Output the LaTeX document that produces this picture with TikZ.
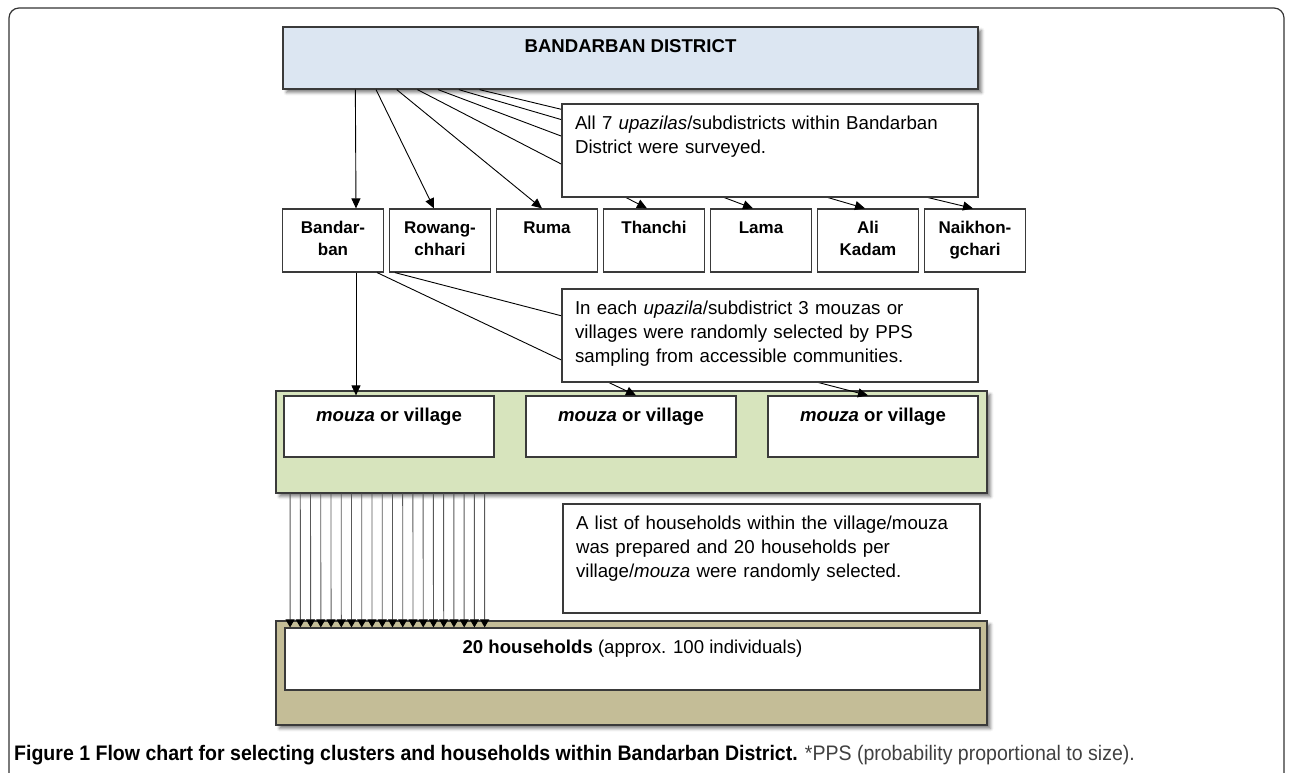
\documentclass[tikz,border=0pt]{standalone}
\usepackage{fontspec}
\setmainfont{Liberation Sans}
\usepackage{graphicx}
\usepackage{tikz}
\usetikzlibrary{arrows.meta, calc, shadows.blur}
\definecolor{districtblue}{HTML}{DCE6F2}
\definecolor{villagegreen}{HTML}{D7E4BD}
\definecolor{householdtan}{HTML}{C4BD97}
\definecolor{edgegray}{HTML}{3A3A3A}
\tikzstyle{boxshadow} = [blur shadow={shadow xshift=3.5pt, shadow yshift=-3.5pt, shadow blur radius=3pt, shadow opacity=50}]
\tikzstyle{district_box} = [rectangle, minimum width=695pt, inner ysep=12pt, text height=13.4pt, text depth=24.6pt, draw=edgegray, line width=1.3pt, fill=districtblue, font=\fontsize{18.6}{22}\selectfont\bfseries, boxshadow]
\tikzstyle{sub_box} = [rectangle, text width=89pt, align=center, inner xsep=6pt, inner ysep=6pt, text height=18pt, text depth=33pt, draw=edgegray, line width=1.2pt, fill=white, font=\fontsize{17}{22}\selectfont\bfseries]
\tikzstyle{note_box} = [rectangle, align=left, inner xsep=13pt, inner ysep=6pt, text height=19.7pt, draw=edgegray, line width=1.2pt, fill=white, font=\fontsize{18.7}{24}\selectfont]
\tikzstyle{band} = [rectangle, minimum width=711pt, inner sep=0pt, draw=edgegray, line width=1.3pt, boxshadow]
\tikzstyle{mouza_box} = [rectangle, minimum width=210pt, inner ysep=6pt, text height=19.7pt, text depth=29.3pt, draw=edgegray, line width=1.2pt, fill=white, font=\fontsize{18.6}{22}\selectfont\bfseries]
\tikzstyle{arrow} = [line width=0.9pt, ->, >={Triangle[length=10pt, width=9pt]}]
\tikzstyle{hh_arrow} = [line width=0.9pt, draw=black!65, ->, >={Triangle[length=8pt, width=9pt, color=black]}]

\begin{document}
\begin{tikzpicture}[x=1pt, y=-1pt, node distance=107pt]
	\useasboundingbox (0,0) rectangle (1290,773);
	\draw[rounded corners=10pt, line width=1.2pt, draw=black!80] (9,8) rectangle (1284,800);

	\node(district) [district_box] at (630.5,58) {BANDARBAN DISTRICT};
	\node(sub_bandarban) [sub_box] at (333,240.5) {Bandar-\\ban};
	\node(sub_rowangchhari) [sub_box, right of=sub_bandarban] {Rowang-\\chhari};
	\node(sub_ruma) [sub_box, right of=sub_rowangchhari] {Ruma};
	\node(sub_thanchi) [sub_box, right of=sub_ruma] {Thanchi};
	\node(sub_lama) [sub_box, right of=sub_thanchi] {Lama};
	\node(sub_alikadam) [sub_box, right of=sub_lama] {Ali\\Kadam};
	\node(sub_naikhongchari) [sub_box, right of=sub_alikadam] {Naikhon-\\gchari};

	\draw[arrow] ($(district.south west)+(73,0)$) -- ($(sub_bandarban.north)+(23,0)$);
	\draw[arrow] ($(district.south west)+(93.7,0)$) -- ($(sub_rowangchhari.north)+(-6,0)$);
	\draw[arrow] ($(district.south west)+(114.4,0)$) -- ($(sub_ruma.north)+(-5,0)$);
	\draw[arrow] ($(district.south west)+(135.1,0)$) -- ($(sub_thanchi.north)+(-7,0)$);
	\draw[arrow] ($(district.south west)+(155.8,0)$) -- ($(sub_lama.north)+(-8,0)$);
	\draw[arrow] ($(district.south west)+(176.5,0)$) -- ($(sub_alikadam.north)+(-3,0)$);
	\draw[arrow] ($(district.south west)+(197.2,0)$) -- ($(sub_naikhongchari.north)+(-2,0)$);

	\node(note_survey) [note_box, text width=390pt, text depth=61.3pt] at (770,150.5) {All 7 \textit{upazilas}/subdistricts within Bandarban\\District were surveyed.};

	\node(villages) [band, fill=villagegreen, minimum height=102pt] at (631.5,442) {};
	\node(mouza_1) [mouza_box] at (389,426.5) {\textit{mouza} or village};
	\node(mouza_2) [mouza_box, right of=mouza_1, node distance=242pt] {\textit{mouza} or village};
	\node(mouza_3) [mouza_box, right of=mouza_2, node distance=242pt] {\textit{mouza} or village};

	\draw[arrow] ($(sub_bandarban.south)+(23,0)$) -- ($(mouza_1.north)+(-33,0)$);
	\draw[arrow] ($(sub_bandarban.south east)+(-7,0)$) -- ($(mouza_2.north)+(5,0)$);
	\draw[arrow] ($(sub_rowangchhari.south west)+(6,0)$) -- ($(mouza_3.north)+(-5,0)$);

	\node(note_sampling) [note_box, text width=390pt, text depth=61.3pt] at (770,335.5) {In each \textit{upazila}/subdistrict 3 mouzas or\\villages were randomly selected by PPS\\sampling from accessible communities.};

	\node(note_listing) [note_box, text width=391pt, text depth=77.3pt] at (771.5,558.5) {A list of households within the village/mouza\\was prepared and 20 households per\\village/\textit{mouza} were randomly selected.};

	\node(households_band) [band, fill=householdtan, minimum height=104pt] at (631.5,673) {};
	\node(households) [mouza_box, minimum width=695pt, text depth=30.3pt, font=\fontsize{18.6}{22}\selectfont] at (632.5,659) {\textbf{20 households} (approx. 100 individuals)};

	\foreach \k in {0,...,19}
		\draw[hh_arrow] ($(villages.south west)+(14.7+10.24*\k,0)$) -- ($(households.north west)+(5.7+10.24*\k,0)$);

	\node(caption) [anchor=west, inner sep=0pt] at (14,755) {\scalebox{0.93}[1]{\fontsize{21}{23}\selectfont\textbf{Figure 1 Flow chart for selecting clusters and households within Bandarban District.} \textcolor{black!75}{*PPS (probability proportional to size).}}};
\end{tikzpicture}
\end{document}
